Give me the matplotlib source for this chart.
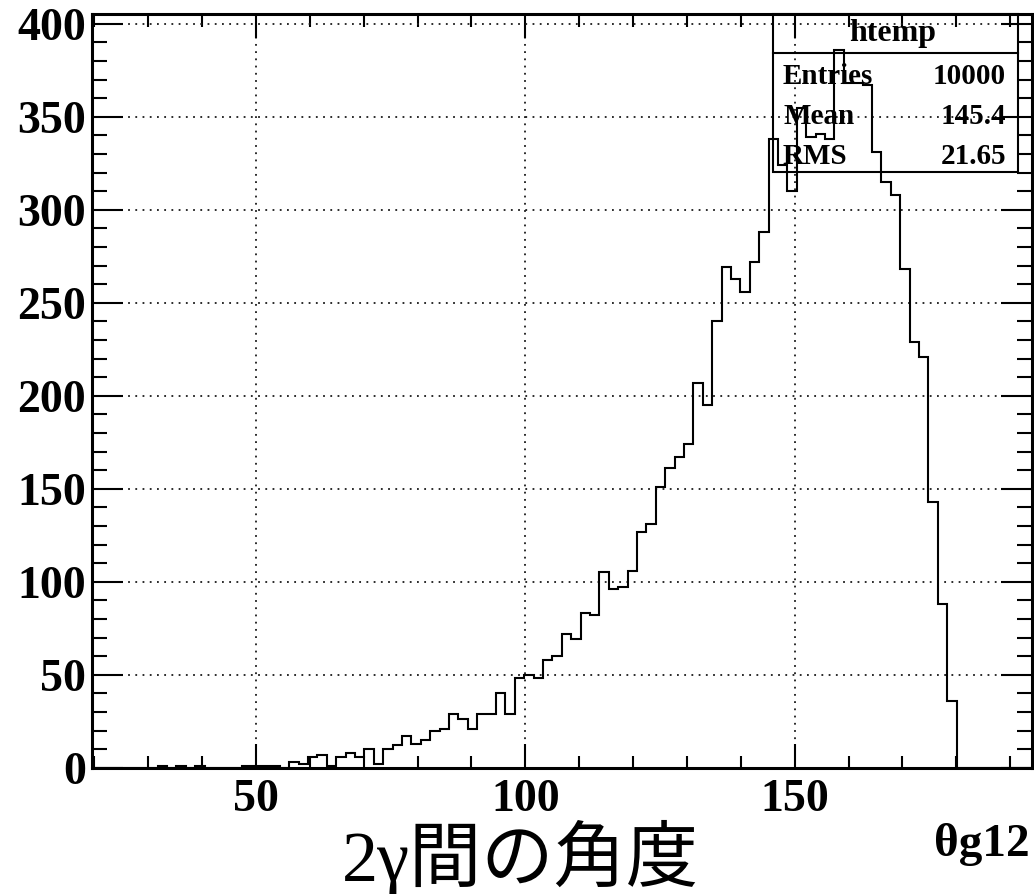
import numpy as np
import matplotlib
matplotlib.use("Agg")
import matplotlib.pyplot as plt
from matplotlib.ticker import MultipleLocator

# htemp: angle between the two gammas, 100 bins
xmin, xmax, nbins = 19.5, 194.0, 100
counts = [0, 0, 0, 0, 0, 0, 0, 1, 0, 1,
          0, 1, 0, 0, 0, 0, 1, 1, 1, 1,
          0, 3, 2, 6, 7, 1, 6, 8, 6, 10,
          2, 10, 12, 17, 13, 15, 20, 21, 29, 26,
          21, 29, 29, 40, 29, 48, 50, 48, 58, 60,
          72, 69, 83, 82, 105, 96, 97, 106, 127, 131,
          151, 161, 167, 174, 207, 195, 240, 269, 263, 256,
          272, 288, 338, 324, 310, 355, 339, 341, 338, 386,
          368, 368, 367, 331, 315, 308, 268, 229, 221, 143,
          88, 36, 0, 0, 0, 0, 0, 0, 0, 0]
stat_names = ["Entries", "Mean", "RMS"]
stat_values = ["10000", "145.4", "21.65"]
hist_name = "htemp"
xtitle = "θg12"
note = "2γ間の角度"

edges = np.linspace(xmin, xmax, nbins + 1)
ymax = 1.05 * max(counts)

serif_bold = dict(family="Liberation Serif", weight="bold")

fig = plt.figure(figsize=(10.34, 8.94), dpi=100)
ax = fig.add_axes([91.7 / 1034, 1 - 767.7 / 894,
                   (1031.7 - 91.7) / 1034, (767.7 - 14) / 894])

ax.stairs(counts, edges, color="black", linewidth=1.5, baseline=0, zorder=3)

ax.set_xlim(xmin, xmax)
ax.set_ylim(0, ymax)

ax.xaxis.set_major_locator(MultipleLocator(50))
ax.xaxis.set_minor_locator(MultipleLocator(10))
ax.yaxis.set_major_locator(MultipleLocator(50))
ax.yaxis.set_minor_locator(MultipleLocator(10))

ax.grid(True, which="major", color="0.1", linestyle=(0, (1, 3)), linewidth=1.3)
ax.set_axisbelow(True)

ax.tick_params(which="both", direction="in", top=True, right=True, width=1.5,
               color="black")
ax.tick_params(axis="x", which="major", length=17, pad=8)
ax.tick_params(axis="x", which="minor", length=9)
ax.tick_params(axis="y", which="major", length=22, pad=4)
ax.tick_params(axis="y", which="minor", length=11)

for lab in ax.get_xticklabels() + ax.get_yticklabels():
    lab.set_fontfamily("Liberation Serif")
    lab.set_fontweight("bold")
    lab.set_fontsize(33)

for sp in ax.spines.values():
    sp.set_linewidth(2.2)

# stats box
bx0, bx1 = 773.3, 1018.3
by0, by1, bsep = 14, 172.3, 53.3
tf = fig.transFigure
def fx(px):
    return px / 1034
def fy(py):
    return 1 - py / 894

box = plt.Rectangle((fx(bx0), fy(by1)), fx(bx1) - fx(bx0), fy(by0) - fy(by1),
                    transform=tf, fill=False, edgecolor="black", linewidth=1.5)
fig.add_artist(box)
fig.add_artist(plt.Line2D([fx(bx0), fx(bx1)], [fy(bsep), fy(bsep)],
                          transform=tf, color="black", linewidth=1.5))
fig.text(fx(893), fy(34), hist_name, ha="center", va="center", fontsize=23,
         **serif_bold)
for i, (name, val) in enumerate(zip(stat_names, stat_values)):
    yy = fy(76 + i * 40)
    fig.text(fx(783), yy, name, ha="left", va="center", fontsize=21, **serif_bold)
    fig.text(fx(1006), yy, val, ha="right", va="center", fontsize=21, **serif_bold)

fig.text(fx(1030), fy(845), xtitle, ha="right", va="center", fontsize=34,
         **serif_bold)
fig.text(fx(342), fy(858), note, ha="left", va="center", fontsize=52,
         family=["Liberation Serif", "Noto Sans CJK JP"])

fig.savefig("out.png", dpi=100)
